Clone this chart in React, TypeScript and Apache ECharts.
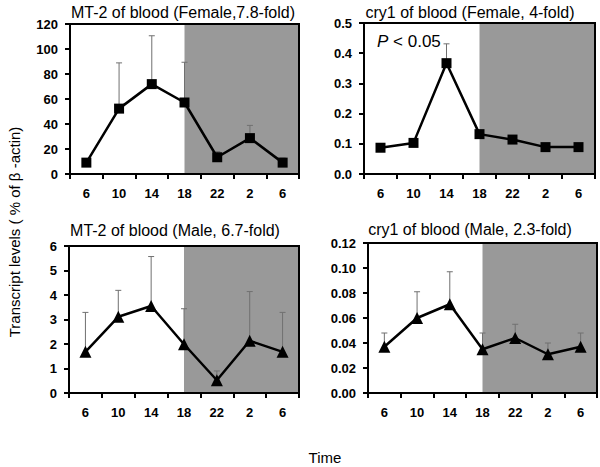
import React, { useEffect, useRef } from "react";
import * as echarts from "echarts";

const hours = ["6", "10", "14", "18", "22", "2", "6"];
const slotCenters = [0.5, 1.5, 2.5, 3.5, 4.5, 5.5, 6.5];
const darkStart = 3.5;
const darkEnd = 7;

const mt2Female = [9.1, 52.3, 71.9, 57.2, 13.4, 28.7, 9.1];
const mt2FemaleTop = [11.8, 88.9, 110.6, 89.4, 18, 38.9, 12.9];
const cry1Female = [0.087, 0.103, 0.367, 0.132, 0.114, 0.089, 0.089];
const cry1FemaleTop = [0.087, 0.103, 0.431, 0.132, 0.114, 0.089, 0.089];
const mt2Male = [1.68, 3.11, 3.55, 1.99, 0.52, 2.13, 1.68];
const mt2MaleTop = [3.29, 4.19, 5.57, 3.44, 0.9, 4.14, 3.29];
const cry1Male = [0.037, 0.06, 0.071, 0.035, 0.044, 0.031, 0.037];
const cry1MaleTop = [0.048, 0.081, 0.097, 0.048, 0.055, 0.04, 0.048];

const titles = [
  "MT-2 of blood (Female,7.8-fold)",
  "cry1 of blood (Female, 4-fold)",
  "MT-2 of blood (Male, 6.7-fold)",
  "cry1 of blood (Male, 2.3-fold)",
];

const panels = [
  { title: titles[0], vals: mt2Female, tops: mt2FemaleTop, max: 120, interval: 20, dec: 0, symbol: "rect", size: 10, grid: { left: 70, top: 24, width: 229, height: 150 }, titlePos: [183, 12] },
  { title: titles[1], vals: cry1Female, tops: cry1FemaleTop, max: 0.5, interval: 0.1, dec: 1, symbol: "rect", size: 10, grid: { left: 364, top: 23, width: 231, height: 151 }, titlePos: [470, 12] },
  { title: titles[2], vals: mt2Male, tops: mt2MaleTop, max: 6, interval: 1, dec: 0, symbol: "triangle", size: 12, grid: { left: 69, top: 246, width: 230, height: 147 }, titlePos: [175, 230] },
  { title: titles[3], vals: cry1Male, tops: cry1MaleTop, max: 0.12, interval: 0.02, dec: 2, symbol: "triangle", size: 12, grid: { left: 368, top: 243, width: 229, height: 150 }, titlePos: [470, 229] },
];

const FONT = "'Liberation Sans', Arial, Helvetica, sans-serif";

export default function App() {
  const ref = useRef<HTMLDivElement>(null);
  useEffect(() => {
    if (!ref.current) return;
    const chart = echarts.init(ref.current, null, { renderer: "svg" });
    const grid: any[] = [];
    const xAxis: any[] = [];
    const yAxis: any[] = [];
    const series: any[] = [];
    const graphic: any[] = [];
    panels.forEach((p, k) => {
      grid.push({ ...p.grid, show: true, borderColor: "#000", borderWidth: 2, backgroundColor: "transparent", z: 10 });
      xAxis.push({
        type: "category",
        gridIndex: k,
        data: hours,
        boundaryGap: true,
        axisLine: { lineStyle: { color: "#000", width: 2 } },
        axisTick: { show: true, length: 5, lineStyle: { color: "#000", width: 2 } },
        axisLabel: { color: "#000", fontWeight: "bold", fontSize: 13, fontFamily: FONT, margin: 13 },
        splitLine: { show: false },
      });
      xAxis.push({ type: "value", gridIndex: k, min: 0, max: 7, show: false });
      yAxis.push({
        type: "value",
        gridIndex: k,
        min: 0,
        max: p.max,
        interval: p.interval,
        axisLine: { show: true, lineStyle: { color: "#000", width: 2 } },
        axisTick: { show: true, length: 5, lineStyle: { color: "#000", width: 2 } },
        axisLabel: { color: "#000", fontWeight: "bold", fontSize: 13, fontFamily: FONT, margin: 12, formatter: (v: number) => v.toFixed(p.dec) },
        splitLine: { show: false },
      });
      series.push({
        type: "line",
        xAxisIndex: 2 * k + 1,
        yAxisIndex: k,
        data: [[darkStart, p.max], [darkEnd, p.max]],
        symbol: "none",
        lineStyle: { width: 0 },
        areaStyle: { color: "#999999", opacity: 1 },
        z: 1,
        silent: true,
      });
      series.push({
        type: "custom",
        xAxisIndex: 2 * k + 1,
        yAxisIndex: k,
        data: slotCenters.map((x, i) => [x, p.vals[i], p.tops[i]]),
        renderItem: (params: any, api: any) => {
          const a = api.coord([api.value(0), api.value(1)]);
          const b = api.coord([api.value(0), api.value(2)]);
          const st = { stroke: "#707070", lineWidth: 1 };
          return {
            type: "group",
            children: [
              { type: "line", shape: { x1: a[0], y1: a[1], x2: b[0], y2: b[1] }, style: st },
              { type: "line", shape: { x1: b[0] - 3, y1: b[1], x2: b[0] + 3, y2: b[1] }, style: st },
            ],
          };
        },
        z: 2,
        silent: true,
      });
      series.push({
        type: "line",
        xAxisIndex: 2 * k + 1,
        yAxisIndex: k,
        data: slotCenters.map((x, i) => [x, p.vals[i]]),
        symbol: p.symbol,
        symbolSize: p.size,
        showSymbol: true,
        itemStyle: { color: "#000" },
        lineStyle: { color: "#000", width: 2.5 },
        z: 3,
      });
      graphic.push({
        type: "text",
        x: p.titlePos[0],
        y: p.titlePos[1],
        style: { text: p.title, font: `16px ${FONT}`, fill: "#000", textAlign: "center", textVerticalAlign: "middle" },
      });
    });
    graphic.push({
      type: "text",
      x: 377,
      y: 41,
      style: {
        text: "{i|P}{n| < 0.05}",
        textVerticalAlign: "middle",
        rich: {
          i: { fontStyle: "italic", fontSize: 17, fontFamily: FONT, fill: "#000" },
          n: { fontSize: 17, fontFamily: FONT, fill: "#000" },
        },
      },
    });
    graphic.push({
      type: "text",
      x: 14,
      y: 232,
      rotation: Math.PI / 2,
      style: { text: "Transcript levels ( % of β -actin)", font: `15px ${FONT}`, fill: "#000", textAlign: "center", textVerticalAlign: "middle" },
    });
    graphic.push({
      type: "text",
      x: 325,
      y: 457,
      style: { text: "Time", font: `15px ${FONT}`, fill: "#000", textAlign: "center", textVerticalAlign: "middle" },
    });
    chart.setOption({ animation: false, backgroundColor: "#fff", grid, xAxis, yAxis, series, graphic });
    return () => chart.dispose();
  }, []);
  return <div ref={ref} style={{ position: "absolute", left: 0, top: 0, width: 600, height: 467 }} />;
}
